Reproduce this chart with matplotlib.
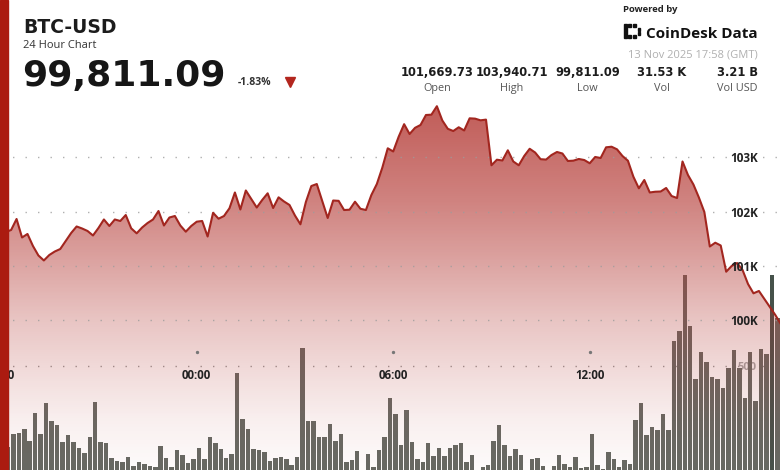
import matplotlib.pyplot as plt
import numpy as np
from matplotlib.patches import Rectangle, Polygon
from matplotlib.transforms import blended_transform_factory as blend

plt.rcParams['font.family'] = ['Open Sans', 'DejaVu Sans']

# BTC-USD, 10 minute steps from 18:00 (previous day) to 17:50
price_close = [
    101670, 101624, 101661, 101864, 101523, 101588, 101367, 101192, 101100, 101201,
    101265, 101311, 101459, 101606, 101726, 101689, 101643, 101560, 101698, 101855,
    101735, 101855, 101827, 101937, 101692, 101600, 101707, 101790, 101855, 102011,
    101744, 101891, 101919, 101744, 101630, 101735, 101814, 101827, 101541, 101978,
    101869, 101919, 102061, 102352, 102039, 102389, 102232, 102075, 102214, 102337,
    102066, 102263, 102186, 102122, 101928, 101766, 102177, 102471, 102508, 102195,
    101882, 102204, 102198, 102029, 102035, 102182, 102052, 102029, 102306, 102508,
    102808, 103166, 103107, 103379, 103610, 103429, 103543, 103595, 103779, 103785,
    103941, 103678, 103525, 103484, 103553, 103494, 103718, 103712, 103681, 103694,
    102853, 102956, 102941, 103129, 102923, 102853, 103024, 103157, 103088, 102965,
    102958, 103042, 103098, 103070, 102932, 102938, 102969, 102950, 102890, 103006,
    102987, 103184, 103195, 103147, 103024, 102937, 102643, 102429, 102582, 102352,
    102366, 102370, 102435, 102287, 102250, 102923, 102674, 102499, 102260, 101993,
    101357, 101427, 101376, 100893, 100998, 101053, 100925, 100667, 100495, 100538,
    100390, 100243, 100096, 99930]
price_last = 99811.09          # 17:58 GMT
time_last = 23 + 58 / 60       # hours after 18:00

volume = [
    181, 152, 206, 209, 229, 178, 298, 205, 338, 264,
    245, 171, 202, 173, 147, 123, 192, 344, 173, 169,
    102, 90, 87, 106, 69, 85, 76, 69, 66, 156,
    102, 66, 138, 116, 83, 98, 145, 98, 195, 166,
    142, 102, 122, 467, 271, 227, 141, 138, 128, 92,
    102, 106, 98, 73, 109, 575, 264, 264, 195, 195,
    249, 178, 206, 87, 95, 135, 40, 119, 66, 138,
    195, 360, 291, 159, 310, 173, 98, 85, 169, 113,
    145, 112, 147, 159, 169, 87, 116, 40, 66, 73,
    176, 243, 159, 112, 142, 116, 40, 98, 102, 67,
    40, 67, 115, 77, 64, 106, 61, 66, 206, 74,
    58, 128, 97, 64, 95, 77, 267, 338, 204, 238,
    224, 292, 224, 607, 651, 892, 672, 443, 557, 518,
    453, 441, 403, 490, 567, 489, 361, 557, 347, 573,
    549, 891, 705, 620]

price_ticks = [100000, 101000, 102000, 103000]
price_tick_labels = ['100K', '101K', '102K', '103K']
time_ticks = [0, 6, 12, 18]
time_tick_labels = ['18:00', '00:00', '06:00', '12:00']

stat_values = ['101,669.73', '103,940.71', '99,811.09', '31.53 K', '3.21 B']
stat_names = ['Open', 'High', 'Low', 'Vol', 'Vol USD']

# layout
XLIM = (-0.006, 23.81)
PRICE_LIM = (97241, 105897)
VOL_LIM = (51.6, 2072)
DOTS = (0, (1, 8))

hours = np.r_[np.arange(len(price_close)) / 6, time_last]
prices = np.r_[price_close, price_last]

fig = plt.figure(figsize=(7.8, 4.7), dpi=100)
fig.patch.set_facecolor('white')

# volume bars (bottom layer)
ax_v = fig.add_axes([0, 0, 1, 1])
ax_v.set_xlim(XLIM)
ax_v.set_ylim(VOL_LIM)
ax_v.axis('off')
bar_colors = ['#666a64'] * len(volume)
bar_colors[141] = '#46524b'
ax_v.bar(np.arange(len(volume)) / 6, volume, width=0.82 / 6, align='edge',
         color=bar_colors, zorder=2)
ax_v.axhline(500, color='#9c9c9c', lw=1, ls=DOTS, zorder=1)
ax_v.text(0.958, 500, '500', transform=blend(ax_v.transAxes, ax_v.transData),
          ha='center', va='center_baseline', fontsize=8, fontweight='bold',
          color='#a8a8a8', zorder=0.5)

# price area
ax_p = fig.add_axes([0, 0, 1, 1])
ax_p.patch.set_alpha(0)
ax_p.axis('off')

poly = Polygon(np.column_stack([np.r_[hours, hours[-1], hours[0]],
                                np.r_[prices, PRICE_LIM[0], PRICE_LIM[0]]]),
               closed=True, facecolor='none', edgecolor='none')
ax_p.add_patch(poly)
rows = 400
px = np.linspace(470, 0, rows)
alpha = np.interp(px, [100, 200, 260, 320, 380, 420, 470],
                  [0.82, 0.62, 0.46, 0.29, 0.16, 0.08, 0.02])
grad = np.zeros((rows, 1, 4))
grad[:, 0, 0] = 0.70
grad[:, 0, 1] = 0.21
grad[:, 0, 2] = 0.19
grad[:, 0, 3] = alpha
im = ax_p.imshow(grad, extent=[XLIM[0], XLIM[1], PRICE_LIM[0], PRICE_LIM[1]],
                 origin='lower', aspect='auto', interpolation='bilinear', zorder=1)
im.set_clip_path(poly)

for t in price_ticks:
    ax_p.axhline(t, color='#9c9c9c', lw=1, ls=DOTS, alpha=0.8, zorder=2)
ax_p.plot(hours, prices, color='#a2261f', lw=1.5, zorder=3)

ax_p.set_xlim(XLIM)
ax_p.set_ylim(PRICE_LIM)

tr_y = blend(ax_p.transAxes, ax_p.transData)
for t, lbl in zip(price_ticks, price_tick_labels):
    ax_p.text(0.954, t, lbl, transform=tr_y, ha='center', va='center_baseline',
              fontsize=8.5, fontweight='bold', color='#222222', zorder=4)

tr_x = blend(ax_p.transData, ax_p.transAxes)
for t, lbl in zip(time_ticks, time_tick_labels):
    ax_p.text(t, 0.205, lbl, transform=tr_x, ha='center', va='center_baseline',
              fontsize=8.3, fontweight='bold', color='#222222', zorder=4)
ax_p.plot(time_ticks, [0.251] * len(time_ticks), transform=tr_x, ls='none',
          marker='o', ms=1.4, color='#777777', zorder=4)

# header, in pixel coordinates
ax_h = fig.add_axes([0, 0, 1, 1])
ax_h.set_xlim(0, 780)
ax_h.set_ylim(470, 0)
ax_h.patch.set_alpha(0)
ax_h.axis('off')

ax_h.add_patch(Rectangle((0, 0), 7.5, 470, color='#ab1b10', zorder=5))

ax_h.text(23, 33.3, 'BTC-USD', fontsize=13.5, fontweight='bold',
          family='DejaVu Sans', color='#1c1c1c')
ax_h.text(23, 48.3, '24 Hour Chart', fontsize=8, color='#333333')
ax_h.text(22, 86, '99,811.09', fontsize=26, fontweight='bold',
          family='DejaVu Sans', color='#161616')
ax_h.text(238, 85, '-1.83%', fontsize=7.5, fontweight='bold', color='#333333')
ax_h.plot([290], [82], marker='v', ms=7, color='#b3261e', ls='none')

ax_h.text(623, 11.5, 'Powered by', fontsize=6.8, fontweight='bold', color='#222222')
for (x0, y0, w, h) in [(623.5, 24, 3, 14), (628, 24, 3, 2.6), (633, 24, 3, 2.6),
                       (628, 35.4, 3, 2.6), (633, 35.4, 3, 2.6),
                       (637.5, 28, 2.5, 2.5), (637.5, 32, 2.5, 2.5)]:
    ax_h.add_patch(Rectangle((x0, y0), w, h, color='#111111'))
ax_h.text(758, 37.5, 'CoinDesk Data', fontsize=11, fontweight='bold',
          ha='right', color='#111111')
ax_h.text(758, 57.5, '13 Nov 2025 17:58 (GMT)', fontsize=8, ha='right',
          color='#b0b0b0')

stat_x = [437.5, 511.5, 587.5, 661.5, 737.5]
for x, v, n in zip(stat_x, stat_values, stat_names):
    ax_h.text(x, 76.5, v, fontsize=8.3, fontweight='bold', ha='center',
              family='DejaVu Sans', color='#1c1c1c')
    ax_h.text(x, 91, n, fontsize=7.8, ha='center', color='#555555')

fig.savefig('out.png', dpi=100)
